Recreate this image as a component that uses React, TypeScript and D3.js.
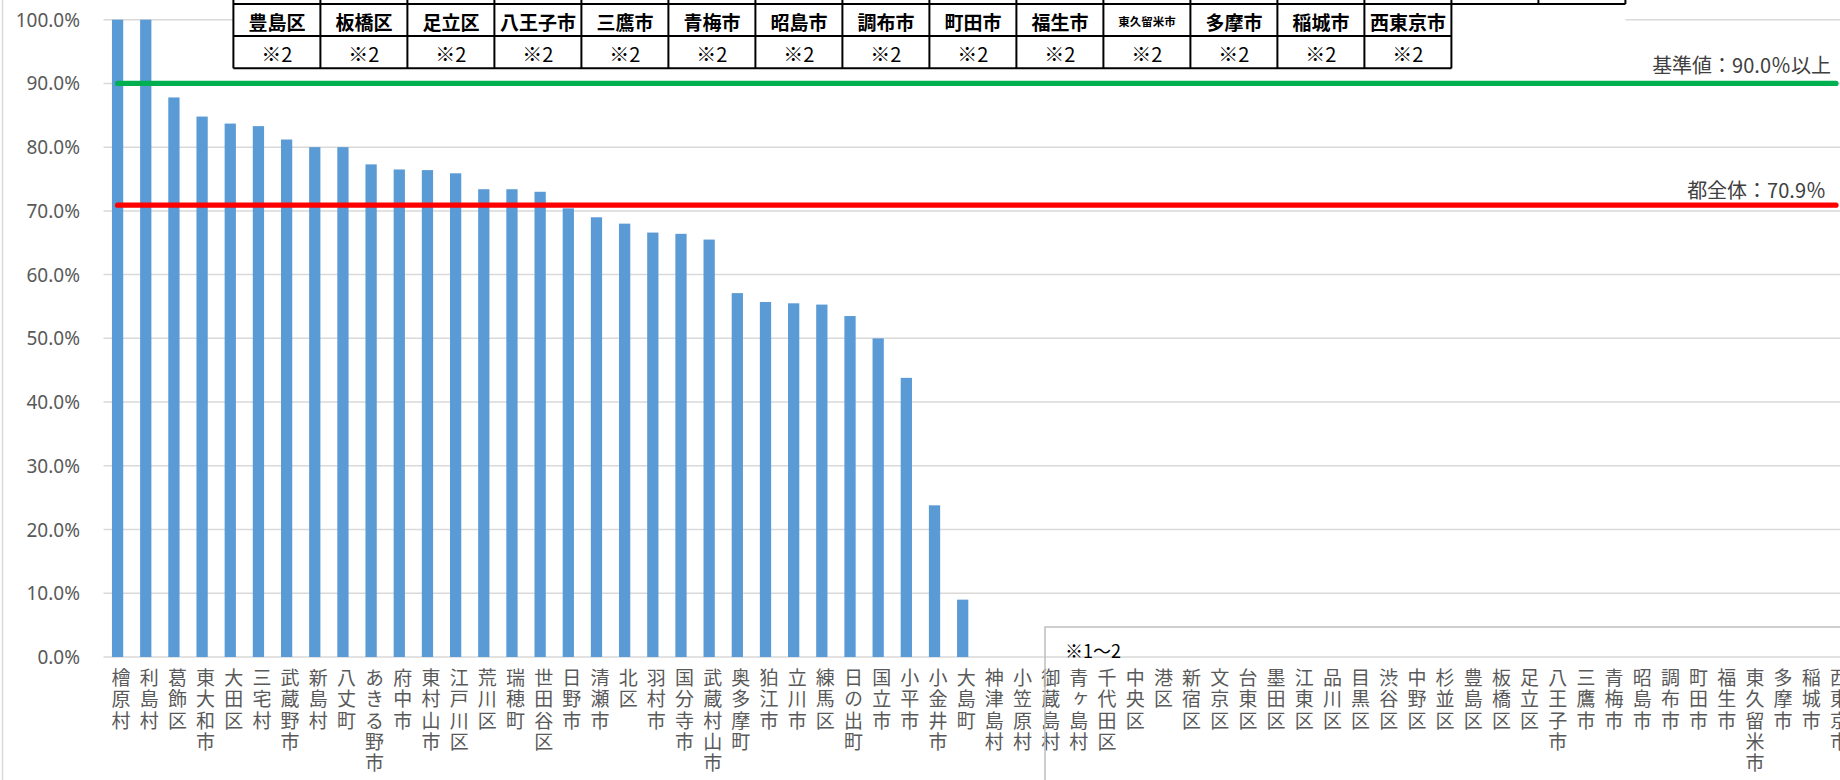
import React from 'react';
import * as d3 from 'd3';

const categories = [
  '檜原村', '利島村', '葛飾区', '東大和市', '大田区', '三宅村', '武蔵野市', '新島村', '八丈町', 'あきる野市',
  '府中市', '東村山市', '江戸川区', '荒川区', '瑞穂町', '世田谷区', '日野市', '清瀬市', '北区', '羽村市',
  '国分寺市', '武蔵村山市', '奥多摩町', '狛江市', '立川市', '練馬区', '日の出町', '国立市', '小平市', '小金井市',
  '大島町', '神津島村', '小笠原村', '御蔵島村', '青ヶ島村', '千代田区', '中央区', '港区', '新宿区', '文京区',
  '台東区', '墨田区', '江東区', '品川区', '目黒区', '渋谷区', '中野区', '杉並区', '豊島区', '板橋区',
  '足立区', '八王子市', '三鷹市', '青梅市', '昭島市', '調布市', '町田市', '福生市', '東久留米市', '多摩市',
  '稲城市', '西東京市',
];

const rates: (number | null)[] = [
  100.0, 100.0, 87.8, 84.8, 83.7, 83.3, 81.2, 80.0, 80.0, 77.3,
  76.5, 76.4, 75.9, 73.4, 73.4, 73.0, 70.4, 69.0, 68.0, 66.6,
  66.4, 65.5, 57.1, 55.7, 55.5, 55.3, 53.5, 50.0, 43.8, 23.8,
  9.0, null, null, null, null, null, null, null, null, null,
  null, null, null, null, null, null, null, null, null, null,
  null, null, null, null, null, null, null, null, null, null,
  null, null,
];

const standardRate = 90.0;
const tokyoRate = 70.9;
const standardLabel = '基準値：90.0％以上';
const tokyoLabel = '都全体：70.9％';

const yTicks = [0, 10, 20, 30, 40, 50, 60, 70, 80, 90, 100];

const tableNames = [
  '豊島区', '板橋区', '足立区', '八王子市', '三鷹市', '青梅市', '昭島市',
  '調布市', '町田市', '福生市', '東久留米市', '多摩市', '稲城市', '西東京市',
];
const tableNotes = ['※2', '※2', '※2', '※2', '※2', '※2', '※2', '※2', '※2', '※2', '※2', '※2', '※2', '※2'];
const boxNote = '※1～2';

const W = 1840;
const H = 780;
const plotLeft = 103.5;
const step = 28.17;
const plotRight = plotLeft + categories.length * step;
const yBottom = 657;
const yTop = 19.7;

const JP = "'Noto Sans CJK JP', 'Noto Sans', sans-serif";
const NUM = "'Noto Sans', 'Noto Sans CJK JP', sans-serif";

export default function App() {
  const x = d3.scaleBand<string>()
    .domain(categories)
    .range([plotLeft, plotRight])
    .paddingInner(0.6)
    .paddingOuter(0.3);
  const y = d3.scaleLinear().domain([0, 100]).range([yBottom, yTop]);

  const cx = (c: string) => (x(c) as number) + x.bandwidth() / 2;
  const firstC = cx(categories[0]);
  const lastC = cx(categories[categories.length - 1]);

  const tableLeft = 233.4;
  const colW = 87.0;
  const rowTop = 4;
  const rowMid = 36;
  const rowBot = 68.3;

  const labelFont = 19;
  const labelGap = 21.2;

  return (
    <svg width={W} height={H} style={{ position: 'absolute', left: 0, top: 0, display: 'block', background: '#fff' }}>
      <rect x={0} y={0} width={W} height={H} fill="#fff" />
      {/* chart area left border */}
      <line x1={2.5} x2={2.5} y1={0} y2={H} stroke="#D9D9D9" strokeWidth={1.5} />

      {/* gridlines */}
      {yTicks.map((t) => (
        <line key={'g' + t} x1={plotLeft} x2={plotRight} y1={y(t)} y2={y(t)} stroke="#D9D9D9" strokeWidth={1.5} />
      ))}

      {/* y tick labels */}
      {yTicks.map((t) => (
        <text key={'yl' + t} x={80} y={y(t)} textAnchor="end" dominantBaseline="central"
          fontFamily={NUM} fontSize={19} fill="#595959">
          {t.toFixed(1) + '%'}
        </text>
      ))}

      {/* bars */}
      {categories.map((c, i) => {
        const v = rates[i];
        if (v == null) return null;
        return (
          <rect key={'b' + c} x={x(c)} y={y(v)} width={x.bandwidth()} height={y(0) - y(v)} fill="#5B9BD5" />
        );
      })}

      {/* reference lines */}
      <line x1={firstC} x2={lastC} y1={y(standardRate)} y2={y(standardRate)} stroke="#00B050" strokeWidth={5.25} strokeLinecap="round" />
      <line x1={firstC} x2={lastC} y1={y(tokyoRate)} y2={y(tokyoRate)} stroke="#FF0000" strokeWidth={5.25} strokeLinecap="round" />

      {/* table image on top */}
      <rect x={tableLeft} y={-5} width={colW * 16} height={rowBot + 5 - 0.5} fill="#fff" />
      {/* clipped top row */}
      <line x1={tableLeft} x2={tableLeft + colW * 16} y1={rowTop} y2={rowTop} stroke="#000" strokeWidth={2} />
      {d3.range(17).map((k) => (
        <line key={'tv' + k} x1={tableLeft + k * colW} x2={tableLeft + k * colW} y1={-5} y2={rowTop} stroke="#000" strokeWidth={2} />
      ))}
      {/* main rows */}
      <line x1={tableLeft} x2={tableLeft + colW * tableNames.length} y1={rowMid} y2={rowMid} stroke="#000" strokeWidth={2} />
      <line x1={tableLeft} x2={tableLeft + colW * tableNames.length} y1={rowBot} y2={rowBot} stroke="#000" strokeWidth={2} />
      {d3.range(tableNames.length + 1).map((k) => (
        <line key={'mv' + k} x1={tableLeft + k * colW} x2={tableLeft + k * colW} y1={rowTop} y2={rowBot} stroke="#000" strokeWidth={2} />
      ))}
      {tableNames.map((n, k) => (
        <text key={'tn' + k} x={tableLeft + (k + 0.5) * colW} y={(rowTop + rowMid) / 2 + 1}
          textAnchor="middle" dominantBaseline="central" fontFamily={JP}
          fontWeight="bold" fontSize={n.length > 4 ? 11.5 : 19} fill="#000">
          {n}
        </text>
      ))}
      {tableNotes.map((n, k) => (
        <text key={'tt' + k} x={tableLeft + (k + 0.5) * colW} y={(rowMid + rowBot) / 2 + 1}
          textAnchor="middle" dominantBaseline="central" fontFamily={JP} fontSize={20} fill="#000">
          {n}
        </text>
      ))}

      {/* annotations */}
      <text x={1831} y={72.5} textAnchor="end" fontFamily={JP} fontSize={20} fill="#404040">{standardLabel}</text>
      <text x={1826} y={198} textAnchor="end" fontFamily={JP} fontSize={20} fill="#404040">{tokyoLabel}</text>

      {/* x labels, stacked vertically (one text per label) */}
      {categories.map((c) => (
        <text key={'xl' + c} x={cx(c) + 3.5} y={678 - labelFont / 2}
          fontFamily={JP} fontSize={labelFont} fill="#595959"
          style={{ writingMode: 'vertical-rl', textOrientation: 'upright', letterSpacing: `${labelGap - labelFont}px` } as any}>
          {c}
        </text>
      ))}

      {/* note box bottom right */}
      <rect x={1045} y={627} width={900} height={300} fill="none" stroke="#BFBFBF" strokeWidth={1.5} />
      <text x={1065} y={658} fontFamily={JP} fontSize={18} fill="#000">{boxNote}</text>
    </svg>
  );
}
